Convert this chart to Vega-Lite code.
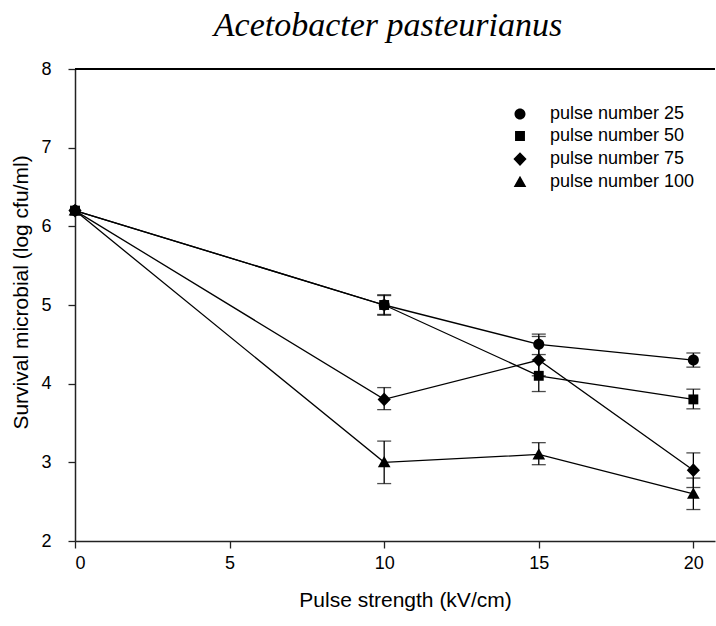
{
  "$schema": "https://vega.github.io/schema/vega-lite/v6.json",
  "autosize": "none",
  "width": 640,
  "height": 472,
  "padding": {"left": 75, "top": 69, "right": 1, "bottom": 85},
  "background": "white",
  "title": {
    "text": "Acetobacter pasteurianus",
    "font": "Liberation Serif",
    "fontStyle": "italic",
    "fontWeight": "normal",
    "fontSize": 34,
    "color": "black",
    "offset": 17,
    "dx": -7
  },
  "config": {
    "view": {"stroke": null},
    "axis": {
      "labelFont": "Liberation Sans",
      "titleFont": "Liberation Sans",
      "labelColor": "black",
      "titleColor": "black",
      "titleFontWeight": "normal",
      "labelFontSize": 18,
      "titleFontSize": 21,
      "domainColor": "#222",
      "domainWidth": 1.5,
      "tickColor": "#222",
      "tickWidth": 1.3,
      "tickSize": 7,
      "grid": false
    },
    "legend": {
      "labelFont": "Liberation Sans",
      "labelFontSize": 18,
      "labelColor": "black"
    }
  },
  "data": {
    "values": [
      {"series": "pulse number 100", "x": 0, "y": 6.2, "lo": null, "hi": null},
      {"series": "pulse number 100", "x": 10, "y": 3.0, "lo": 2.73, "hi": 3.27},
      {"series": "pulse number 100", "x": 15, "y": 3.1, "lo": 2.97, "hi": 3.25},
      {"series": "pulse number 100", "x": 20, "y": 2.6, "lo": 2.4, "hi": 2.8},
      {"series": "pulse number 75", "x": 0, "y": 6.2, "lo": null, "hi": null},
      {"series": "pulse number 75", "x": 10, "y": 3.8, "lo": 3.67, "hi": 3.95},
      {"series": "pulse number 75", "x": 15, "y": 4.3, "lo": 4.1, "hi": 4.6},
      {"series": "pulse number 75", "x": 20, "y": 2.9, "lo": 2.68, "hi": 3.12},
      {"series": "pulse number 50", "x": 0, "y": 6.2, "lo": null, "hi": null},
      {"series": "pulse number 50", "x": 10, "y": 5.0, "lo": 4.87, "hi": 5.13},
      {"series": "pulse number 50", "x": 15, "y": 4.1, "lo": 3.9, "hi": 4.3},
      {"series": "pulse number 50", "x": 20, "y": 3.8, "lo": 3.68, "hi": 3.93},
      {"series": "pulse number 25", "x": 0, "y": 6.2, "lo": null, "hi": null},
      {"series": "pulse number 25", "x": 10, "y": 5.0, "lo": 4.88, "hi": 5.12},
      {"series": "pulse number 25", "x": 15, "y": 4.5, "lo": 4.37, "hi": 4.63},
      {"series": "pulse number 25", "x": 20, "y": 4.3, "lo": 4.21, "hi": 4.39}
    ]
  },
  "layer": [
    {
      "mark": {"type": "rule", "color": "black", "strokeWidth": 1.5},
      "encoding": {"y": {"datum": 8, "type": "quantitative", "scale": {"domain": [2, 8], "nice": false}}}
    },
    {
      "mark": {"type": "line", "color": "black", "strokeWidth": 1.3},
      "encoding": {
        "x": {"field": "x", "type": "quantitative",
              "scale": {"domain": [0, 20.7], "nice": false, "zero": false},
              "axis": {"values": [0, 5, 10, 15, 20], "format": "d", "title": "Pulse strength (kV/cm)", "labelPadding": 6, "titlePadding": 17, "titleX": 330}},
        "y": {"field": "y", "type": "quantitative",
              "scale": {"domain": [2, 8], "nice": false, "zero": false},
              "axis": {"values": [2, 3, 4, 5, 6, 7, 8], "format": "d", "title": "Survival microbial (log cfu/ml)", "labelPadding": 17, "titlePadding": 9, "titleY": 223}},
        "detail": {"field": "series"},
        "order": {"field": "x"}
      }
    },
    {
      "transform": [{"filter": "datum.lo != null"}],
      "mark": {"type": "rule", "color": "black", "strokeWidth": 1.3},
      "encoding": {
        "x": {"field": "x", "type": "quantitative"},
        "y": {"field": "lo", "type": "quantitative"},
        "y2": {"field": "hi"}
      }
    },
    {
      "transform": [{"filter": "datum.lo != null"}],
      "mark": {"type": "tick", "orient": "horizontal", "color": "black", "size": 14, "thickness": 1.3},
      "encoding": {
        "x": {"field": "x", "type": "quantitative"},
        "y": {"field": "lo", "type": "quantitative"}
      }
    },
    {
      "transform": [{"filter": "datum.lo != null"}],
      "mark": {"type": "tick", "orient": "horizontal", "color": "black", "size": 14, "thickness": 1.3},
      "encoding": {
        "x": {"field": "x", "type": "quantitative"},
        "y": {"field": "hi", "type": "quantitative"}
      }
    },
    {
      "transform": [{"filter": "datum.series === 'pulse number 100'"}],
      "mark": {"type": "point", "filled": true, "color": "black", "opacity": 1, "size": 121, "shape": "M0,-1.15L1.15,0.9L-1.15,0.9Z"},
      "encoding": {
        "x": {"field": "x", "type": "quantitative"},
        "y": {"field": "y", "type": "quantitative"}
      }
    },
    {
      "transform": [{"filter": "datum.series === 'pulse number 75'"}],
      "mark": {"type": "point", "filled": true, "color": "black", "opacity": 1, "size": 121, "shape": "M0,-1.25L1.2,0L0,1.25L-1.2,0Z"},
      "encoding": {
        "x": {"field": "x", "type": "quantitative"},
        "y": {"field": "y", "type": "quantitative"}
      }
    },
    {
      "transform": [{"filter": "datum.series === 'pulse number 50'"}],
      "mark": {"type": "point", "filled": true, "color": "black", "opacity": 1, "size": 121, "shape": "M-0.9,-0.9H0.9V0.9H-0.9Z"},
      "encoding": {
        "x": {"field": "x", "type": "quantitative"},
        "y": {"field": "y", "type": "quantitative"}
      }
    },
    {
      "transform": [{"filter": "datum.series === 'pulse number 25'"}],
      "mark": {"type": "point", "filled": true, "color": "black", "opacity": 1, "size": 121, "shape": "M1,0A1,1 0 1,1 -1,0A1,1 0 1,1 1,0Z"},
      "encoding": {
        "x": {"field": "x", "type": "quantitative"},
        "y": {"field": "y", "type": "quantitative"}
      }
    },
    {
      "data": {"values": []},
      "mark": {"type": "point", "filled": true, "fill": "black", "stroke": "black", "strokeWidth": 1.3, "opacity": 1, "size": 121},
      "encoding": {
        "x": {"field": "x", "type": "quantitative"},
        "y": {"field": "y", "type": "quantitative"},
        "shape": {"field": "series", "type": "nominal",
                  "scale": {"domain": ["pulse number 25", "pulse number 50", "pulse number 75", "pulse number 100"],
                            "range": [
                              "M-3.73,0H3.73M1,0A1,1 0 1,1 -1,0A1,1 0 1,1 1,0Z",
                              "M-3.73,0H3.73M-0.9,-0.9H0.9V0.9H-0.9Z",
                              "M-3.73,0H3.73M0,-1.25L1.2,0L0,1.25L-1.2,0Z",
                              "M-3.73,0H3.73M0,-1.15L1.15,0.9L-1.15,0.9Z"
                            ]},
                  "legend": {
                    "title": null,
                    "orient": "none",
                    "legendX": 436,
                    "legendY": 36,
                    "padding": 0,
                    "symbolSize": 121,
                    "symbolFillColor": "black",
                    "symbolStrokeColor": "black",
                    "symbolStrokeWidth": 1.3,
                    "symbolOpacity": 1,
                    "labelOffset": 21,
                    "rowPadding": 4,
                    "encode": {
                      "symbols": {
                        "stroke": {"value": "black"},
                        "strokeWidth": {"value": 1.3},
                        "fill": {"value": "black"}
                      }
                    }
                  }}
      }
    }
  ]
}
